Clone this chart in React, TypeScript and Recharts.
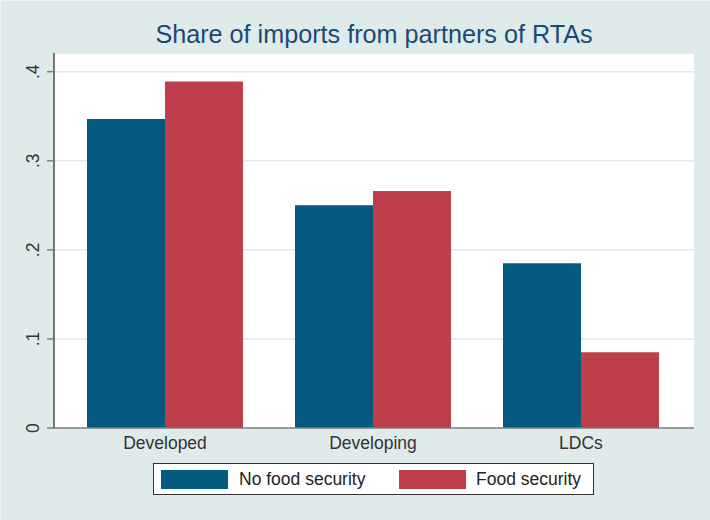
import React from "react";
import { BarChart, Bar, XAxis, YAxis, CartesianGrid } from "recharts";

const categories = ["Developed", "Developing", "LDCs"];
const noFoodSecurity = [0.347, 0.25, 0.185];
const foodSecurity = [0.389, 0.266, 0.085];
const yTicks = [0, 0.1, 0.2, 0.3, 0.4];
const seriesNames = ["No food security", "Food security"];
const titleText = "Share of imports from partners of RTAs";

const data = categories.map((c, i) => ({
  name: c,
  nfs: noFoodSecurity[i],
  fs: foodSecurity[i],
}));

const BLUE = "#055A80";
const RED = "#BE3E4B";
const BG = "#DFEBEB";
const FONT = "'Liberation Sans', Arial, sans-serif";

const fmt = (v: number) => (v === 0 ? "0" : String(v).replace(/^0/, ""));

const YTick = (props: any) => {
  const { y, payload } = props;
  const x = 38;
  return (
    <text
      x={x}
      y={y}
      transform={`rotate(-90, ${x}, ${y})`}
      textAnchor="middle"
      fontSize={17.5}
      fontFamily={FONT}
      fill="#333"
    >
      {fmt(payload.value)}
    </text>
  );
};

const XTick = (props: any) => {
  const { x, y, payload } = props;
  return (
    <text
      x={x}
      y={y + 13}
      textAnchor="middle"
      fontSize={17.5}
      fontFamily={FONT}
      fill="#333"
    >
      {payload.value}
    </text>
  );
};

export default function App() {
  return (
    <div
      style={{
        position: "absolute",
        left: 0,
        top: 0,
        width: 710,
        height: 520,
        background: BG,
        borderTop: "1px solid #EEF4F4",
        borderLeft: "1px solid #EEF4F4",
        boxSizing: "border-box",
        overflow: "hidden",
        fontFamily: FONT,
      }}
    >
      <div
        style={{
          position: "absolute",
          left: 0,
          top: 0,
          width: 710,
          height: 520,
        }}
      >
        <BarChart
          width={710}
          height={520}
          data={data}
          margin={{ top: 52, right: 17, bottom: 63, left: 0 }}
          barCategoryGap={26}
          barGap={0}
        >
          <CartesianGrid
            horizontal={true}
            vertical={false}
            stroke={BG}
            strokeWidth={1.5}
            fill="#FFFFFF"
          />
          <XAxis
            dataKey="name"
            height={30}
            padding={{ left: 7, right: 9 }}
            tickLine={false}
            axisLine={{ stroke: "#7F7F7F", strokeWidth: 1.5 }}
            tick={<XTick />}
            interval={0}
          />
          <YAxis
            width={53}
            domain={[0, 0.421]}
            ticks={yTicks}
            allowDataOverflow={true}
            tickSize={7}
            tickLine={{ stroke: "#7F7F7F", strokeWidth: 1.5 }}
            axisLine={{ stroke: "#222", strokeWidth: 1.2 }}
            tick={<YTick />}
            interval={0}
          />
          <Bar dataKey="nfs" name={seriesNames[0]} fill={BLUE} barSize={78} isAnimationActive={false} />
          <Bar dataKey="fs" name={seriesNames[1]} fill={RED} barSize={78} isAnimationActive={false} />
        </BarChart>
      </div>
      <div
        style={{
          position: "absolute",
          left: 53,
          width: 640,
          top: 18,
          textAlign: "center",
          fontSize: 25.2,
          color: "#1A4A73",
          lineHeight: "30px",
          whiteSpace: "nowrap",
        }}
      >
        {titleText}
      </div>
      <div
        style={{
          position: "absolute",
          left: 152,
          top: 462,
          width: 441,
          height: 32,
          background: "#fff",
          border: "1px solid #333",
          boxSizing: "border-box",
          fontSize: 17.5,
          color: "#222",
        }}
      >
        <div style={{ position: "absolute", left: 7, top: 6, width: 67, height: 19, background: BLUE }} />
        <div style={{ position: "absolute", left: 85, top: 4, lineHeight: "22px", whiteSpace: "nowrap" }}>
          {seriesNames[0]}
        </div>
        <div style={{ position: "absolute", left: 245, top: 6, width: 67, height: 19, background: RED }} />
        <div style={{ position: "absolute", left: 322, top: 4, lineHeight: "22px", whiteSpace: "nowrap" }}>
          {seriesNames[1]}
        </div>
      </div>
    </div>
  );
}
